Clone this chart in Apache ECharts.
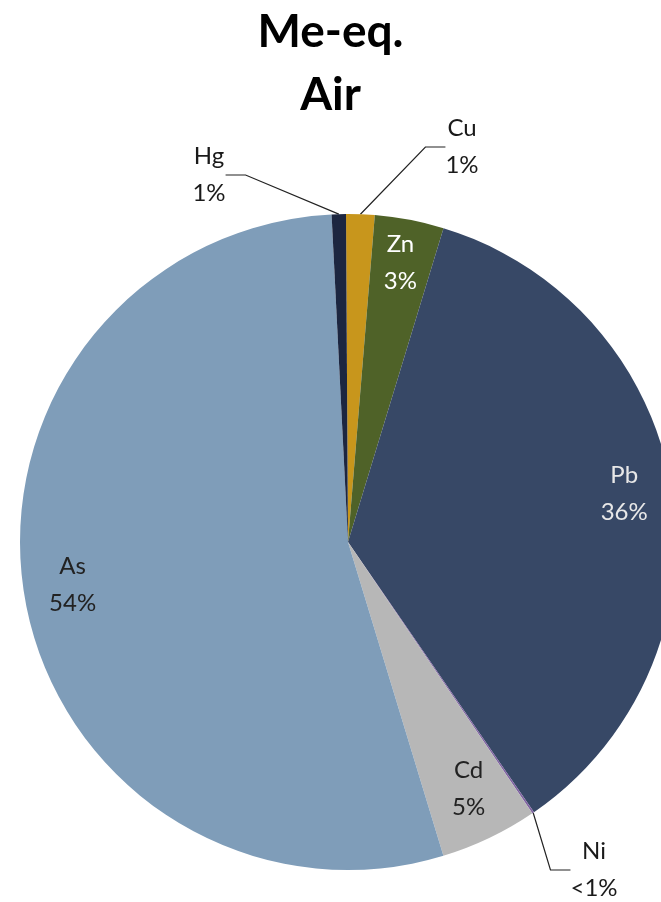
<!DOCTYPE html>
<html>
<head>
<meta charset="utf-8">
<script src="https://cdn.jsdelivr.net/npm/echarts@6/dist/echarts.min.js"></script>
<style>
  html, body { margin: 0; padding: 0; background: #fff; }
  #chart { width: 661px; height: 902px; }
</style>
</head>
<body>
<div id="chart"></div>
<script>
// metals, clockwise from the top
const metals = ['Cu', 'Zn', 'Pb', 'Ni', 'Cd', 'As', 'Hg'];
const shares = [1.4, 3.4, 35.7, 0.1, 4.8, 53.9, 0.7];
const colors = ['#c8961c', '#4f6228', '#374866', '#8064a2', '#b7b7b7', '#7f9db9', '#1c2640'];
const labelColors = ['#222', '#fff', '#e8e8e8', '#222', '#222', '#222', '#222'];
const outsideLabels = ['Cu', 'Ni', 'Hg'];

const chart = echarts.init(document.getElementById('chart'));

function pctText(p) {
  const r = Math.round(p);
  return r < 1 ? '<1%' : r + '%';
}

const baseFont = { fontFamily: 'Lato', fontSize: 24, lineHeight: 37 };

const mainData = metals.map((m, i) => {
  const out = outsideLabels.indexOf(m) >= 0;
  return {
    name: m,
    value: shares[i],
    itemStyle: { color: colors[i] },
    label: { show: out },
    labelLine: { show: out }
  };
});

const innerData = metals.map((m, i) => {
  const out = outsideLabels.indexOf(m) >= 0;
  return {
    name: m,
    value: shares[i],
    label: { show: !out, color: labelColors[i] }
  };
});

// where the three outside labels sit
const outPos = {
  Cu: { x: 462, y: 147 },
  Hg: { x: 209, y: 175 },
  Ni: { x: 594, y: 870 }
};

chart.setOption({
  animation: false,
  title: {
    text: 'Me-eq.\nAir',
    left: 'center',
    top: -4,
    textStyle: { fontFamily: 'Lato', fontSize: 46, fontWeight: 'bold', lineHeight: 63, color: '#000' }
  },
  series: [
    {
      type: 'pie',
      center: [348, 542],
      radius: [0, 328],
      startAngle: 90.35,
      clockwise: true,
      avoidLabelOverlap: false,
      data: mainData,
      label: Object.assign({
        position: 'outside',
        color: '#1a1a1a',
        formatter: p => p.name + '\n' + pctText(p.percent)
      }, baseFont),
      labelLine: { length: 15, length2: 20, lineStyle: { color: '#222', width: 1.2 } },
      labelLayout: function (params) {
        const pos = outPos[metals[params.dataIndex]];
        if (!pos) return {};
        return { x: pos.x, y: pos.y, align: 'center', verticalAlign: 'middle' };
      },
      emphasis: { disabled: true }
    },
    {
      type: 'pie',
      center: [348, 537],
      radius: [223, 330],
      startAngle: 90.35,
      clockwise: true,
      silent: true,
      avoidLabelOverlap: false,
      itemStyle: { color: 'rgba(0,0,0,0)' },
      data: innerData,
      label: Object.assign({
        position: 'inside',
        formatter: p => p.name + '\n' + pctText(p.percent)
      }, baseFont),
      labelLine: { show: false },
      emphasis: { disabled: true }
    }
  ]
});
</script>
</body>
</html>
